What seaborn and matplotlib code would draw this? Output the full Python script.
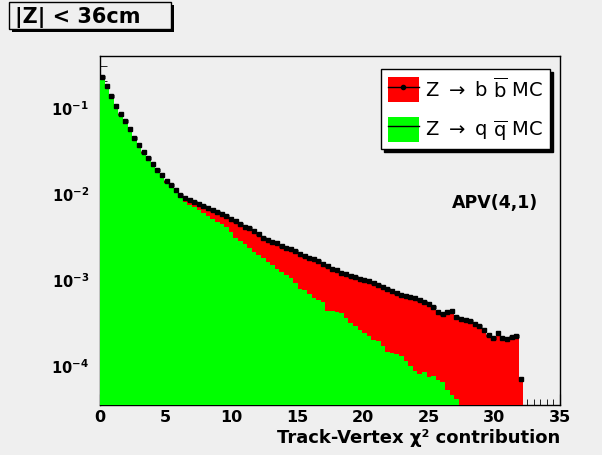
import numpy as np
import pandas as pd
import seaborn as sns
import matplotlib
matplotlib.use('Agg')
import matplotlib.pyplot as plt
from matplotlib.patches import Patch, Rectangle
from matplotlib.lines import Line2D
from matplotlib.legend_handler import HandlerTuple

# bin contents, bins of 0.35 starting at 0
bb_mc = [0.223, 0.175, 0.136, 0.104, 0.083, 0.0688, 0.0562, 0.0442, 0.0361, 0.030,
         0.0255, 0.0217, 0.01875, 0.0162, 0.0139, 0.0123, 0.01084, 0.0096, 0.00887, 0.0083,
         0.00786, 0.00745, 0.00716, 0.00678, 0.00643, 0.00601, 0.0057, 0.0054, 0.00505, 0.00472,
         0.00436, 0.00403, 0.00387, 0.00366, 0.00338, 0.00304, 0.00288, 0.00273, 0.00259, 0.00242,
         0.00232, 0.00223, 0.00212, 0.00195, 0.00185, 0.00175, 0.00171, 0.0016, 0.00149, 0.00142,
         0.00132, 0.00126, 0.00119, 0.00113, 0.00108, 0.00105, 0.00101, 0.000986, 0.000948, 0.00091,
         0.000863, 0.000807, 0.000765, 0.000735, 0.000687, 0.000652, 0.000634, 0.000618, 0.000601, 0.00057,
         0.00054, 0.000512, 0.000472, 0.000413, 0.000392, 0.000413, 0.000425, 0.000361, 0.000343, 0.000334,
         0.000321, 0.000304, 0.000284, 0.000255, 0.000223, 0.000206, 0.000239, 0.000206, 0.0002, 0.000214,
         0.000217, 0.000069]

qq_mc = [0.220, 0.172, 0.133, 0.102, 0.081, 0.067, 0.0546, 0.0428, 0.0349, 0.0289,
         0.0245, 0.0207, 0.0178, 0.0153, 0.0130, 0.0114, 0.0099, 0.0087, 0.0079, 0.0072,
         0.00687, 0.00643, 0.00585, 0.0054, 0.00499, 0.0046, 0.00436, 0.00408, 0.00352, 0.00304,
         0.00277, 0.00255, 0.00229, 0.00206, 0.0019, 0.00175, 0.00158, 0.00144, 0.00131, 0.00121,
         0.00111, 0.00103, 0.00091, 0.000776, 0.000755, 0.00067, 0.00061, 0.00057, 0.00054, 0.00043,
         0.000425, 0.000419, 0.000403, 0.000348, 0.000312, 0.000284, 0.000259, 0.000236, 0.000217, 0.000195,
         0.00019, 0.000166, 0.000142, 0.000138, 0.000134, 0.000127, 0.000111, 0.000097, 0.000085, 0.0000786,
         0.000084, 0.0000734, 0.0000745, 0.000067, 0.0000627, 0.0000512, 0.0000448, 0.0000403, 0.000028, 0.000022,
         0.000018, 0, 0, 0, 0, 0, 0, 0, 0, 0,
         0, 0]

bin_width = 0.35
legend_labels = [r'Z $\rightarrow$ b $\overline{\mathrm{b}}$ MC',
                 r'Z $\rightarrow$ q $\overline{\mathrm{q}}$ MC']
y_ticks = [1e-4, 1e-3, 1e-2, 1e-1]
y_ticklabels = [r'$\mathbf{10^{-4}}$', r'$\mathbf{10^{-3}}$', r'$\mathbf{10^{-2}}$', r'$\mathbf{10^{-1}}$']

bg = '#efefef'
edges = np.arange(len(bb_mc) + 1) * bin_width
centers = edges[:-1] + bin_width / 2
df = pd.DataFrame({'chi2': centers, 'bb': bb_mc, 'qq': qq_mc})

fig = plt.figure(figsize=(6.02, 4.56), dpi=100, facecolor=bg)
ax = fig.add_axes([0.1661, 0.1096, 0.7641, 0.7654])
ax.set_facecolor(bg)
ax.set_yscale('log')

sns.histplot(data=df, x='chi2', weights='bb', bins=edges.tolist(), element='step', fill=True,
             color='#ff0000', alpha=1, linewidth=0, ax=ax, zorder=3)
sns.histplot(data=df, x='chi2', weights='qq', bins=edges.tolist(), element='step', fill=True,
             color='#00ff00', alpha=1, linewidth=0, ax=ax, zorder=4)
ax.errorbar(df['chi2'], df['bb'], xerr=bin_width / 2, fmt='s', ms=3.5, color='black',
            elinewidth=2.4, capsize=0, zorder=5)

ax.set_xlim(0, 35)
ax.set_ylim(3.43e-5, 0.392)
ax.set_axisbelow(True)

for s in ax.spines.values():
    s.set_color('black')
    s.set_linewidth(1)

ax.set_xticks(np.arange(0, 36, 5))
ax.set_xticks(np.arange(0, 35.01, 0.5), minor=True)
ax.set_yticks(y_ticks)
ax.set_yticklabels(y_ticklabels)
ax.tick_params(axis='both', which='both', direction='in', top=False, right=False)
ax.tick_params(axis='x', which='major', length=8, pad=3, labelsize=11.5)
ax.tick_params(axis='x', which='minor', length=4)
ax.tick_params(axis='y', which='major', length=9, pad=8, labelsize=10.5)
ax.tick_params(axis='y', which='minor', length=5)
for lab in ax.get_xticklabels():
    lab.set_fontweight('bold')

ax.set_ylabel('')
ax.set_xlabel('Track-Vertex χ² contribution', loc='right', fontsize=13,
              fontweight='bold', labelpad=3)

h_bb = (Patch(facecolor='#ff0000', edgecolor='none'),
        Line2D([], [], color='black', lw=1, marker='o', ms=3))
h_qq = (Patch(facecolor='#00ff00', edgecolor='none'),
        Line2D([], [], color='black', lw=1))
leg = ax.legend([h_bb, h_qq], legend_labels, handler_map={tuple: HandlerTuple()},
                loc='upper right', bbox_to_anchor=(0.978, 0.963), fontsize=14,
                fancybox=False, edgecolor='black', facecolor='white', framealpha=1,
                shadow={'color': 'black', 'alpha': 1}, handlelength=1.6, handleheight=1.6,
                labelspacing=0.75, borderpad=0.35, handletextpad=0.3, borderaxespad=0)
leg.set_zorder(10)

ax.text(0.952, 0.582, 'APV(4,1)', transform=ax.transAxes, ha='right', va='center',
        fontsize=12.5, fontweight='bold')

# title box with shadow, top left of the canvas
fig.patches.append(Rectangle((12 / 602, 1 - 33 / 456), 162 / 602, 27 / 456,
                             transform=fig.transFigure, facecolor='black', edgecolor='none'))
fig.patches.append(Rectangle((9 / 602, 1 - 30 / 456), 162 / 602, 27 / 456,
                             transform=fig.transFigure, facecolor=bg, edgecolor='black', lw=1))
fig.text(15 / 602, 1 - 17 / 456, '|Z| < 36cm', fontsize=15, fontweight='bold',
         ha='left', va='center')

fig.savefig('out.png', dpi=100, facecolor=bg)
